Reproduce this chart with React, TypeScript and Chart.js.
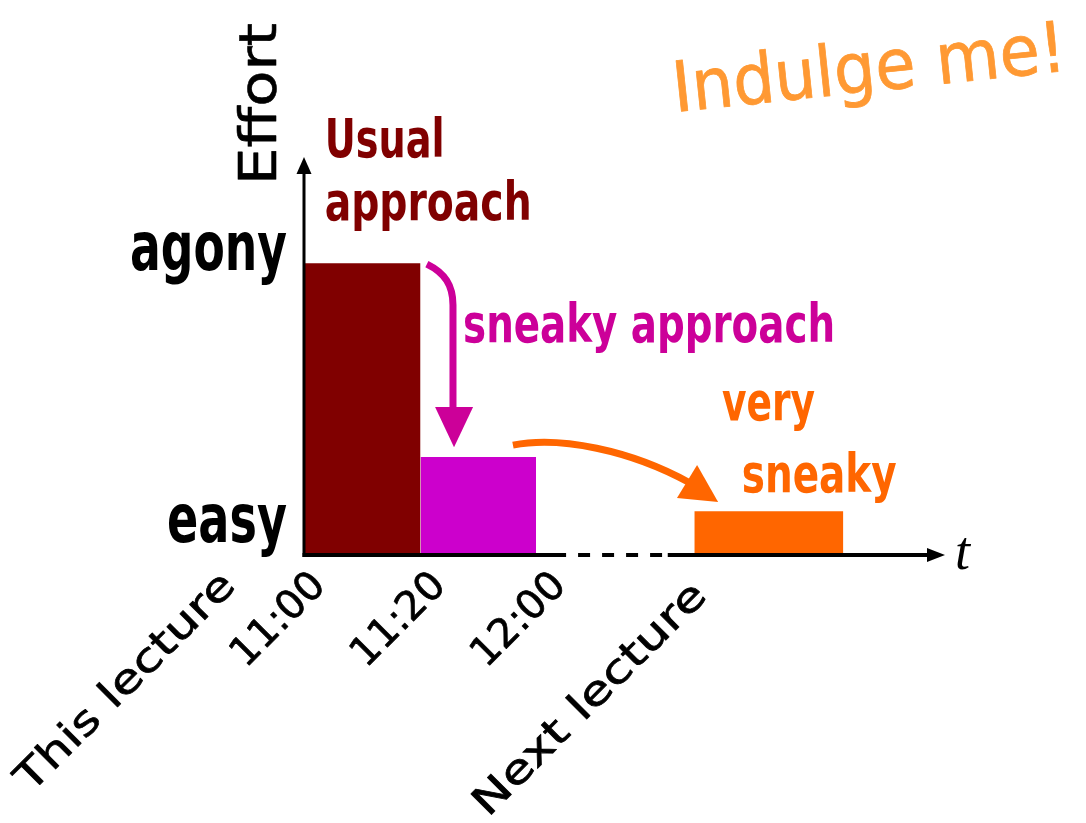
import React, { useEffect, useRef } from 'react';
import { Chart, registerables } from 'chart.js';

Chart.register(...registerables);

// ---- data ----
const approaches = ['Usual approach', 'sneaky approach', 'very sneaky'];
const startTimes = [0, 1, 3.37];
const endTimes = [1, 2, 4.66];
const effortValues = [7.33, 2.46, 1.1];
const barColors = ['#800000', '#CC00CC', '#FF6600'];

const timeTickLabels = ['This lecture', '11:00', '11:20', '12:00', 'Next lecture'];
const timeTickValues = [-0.65, 0.13, 1.17, 2.21, 3.43];
const effortTickLabels = ['agony', 'easy'];
const effortTickValues = [7.16, 0.33];

// gap (dashed) section of the time axis
const gapStart = 2.26;
const gapEnd = 3.14;

const X_MAX = 5.54;
const Y_MAX = 10;

// ---- layout / style (not data) ----
const timeTickDrop = [25, 25, 25, 25, 35];
const timeTickLength = [292, 0, 0, 0, 312];
const COMIC = "'Comic Sans MS', 'DejaVu Sans', sans-serif";
const NARROW = "'Liberation Sans Narrow', 'Arial Narrow', 'DejaVu Sans Condensed', 'Liberation Sans', sans-serif";

type TextOpts = {
  font: string;
  color: string;
  align?: 'left' | 'right' | 'center';
  baseline?: CanvasTextBaseline;
  rotate?: number;
  width?: number;
  stroke?: number;
};

function drawText(ctx: CanvasRenderingContext2D, text: string, x: number, y: number, o: TextOpts) {
  ctx.save();
  ctx.font = o.font;
  ctx.fillStyle = o.color;
  ctx.strokeStyle = o.color;
  ctx.lineJoin = 'round';
  ctx.textAlign = 'left';
  ctx.textBaseline = o.baseline || 'alphabetic';
  ctx.translate(x, y);
  ctx.rotate(o.rotate || 0);
  const w = ctx.measureText(text).width;
  const target = o.width && o.width > 0 ? o.width : w;
  ctx.scale(target / w, 1);
  const dx = o.align === 'right' ? -w : o.align === 'center' ? -w / 2 : 0;
  ctx.fillText(text, dx, 0);
  if (o.stroke) {
    ctx.lineWidth = o.stroke;
    ctx.strokeText(text, dx, 0);
  }
  ctx.restore();
}

const diagramPlugin = {
  id: 'diagram',
  afterDatasetsDraw(chart: any) {
    const ctx: CanvasRenderingContext2D = chart.ctx;
    const xs = chart.scales.x;
    const ys = chart.scales.y;
    const px = (v: number) => xs.getPixelForValue(v);
    const py = (v: number) => ys.getPixelForValue(v);
    const x0 = px(0);
    const y0 = py(0);
    const xEnd = xs.right;
    const yTop = ys.top;

    ctx.save();
    ctx.strokeStyle = '#000';
    ctx.fillStyle = '#000';
    ctx.lineCap = 'butt';

    // y axis
    ctx.lineWidth = 3;
    ctx.beginPath();
    ctx.moveTo(x0 - 1, y0 + 2);
    ctx.lineTo(x0 - 1, yTop + 14);
    ctx.stroke();
    ctx.beginPath();
    ctx.moveTo(x0 - 1, yTop);
    ctx.lineTo(x0 - 8.5, yTop + 17);
    ctx.lineTo(x0 + 6.5, yTop + 17);
    ctx.closePath();
    ctx.fill();

    // x axis
    ctx.lineWidth = 4;
    ctx.beginPath();
    ctx.moveTo(x0 - 2.5, y0);
    ctx.lineTo(px(gapStart), y0);
    ctx.stroke();
    ctx.save();
    ctx.setLineDash([12, 12]);
    ctx.lineDashOffset = 12;
    ctx.beginPath();
    ctx.moveTo(px(gapStart), y0);
    ctx.lineTo(px(gapEnd), y0);
    ctx.stroke();
    ctx.restore();
    ctx.beginPath();
    ctx.moveTo(px(gapEnd), y0);
    ctx.lineTo(xEnd - 14, y0);
    ctx.stroke();
    ctx.beginPath();
    ctx.moveTo(xEnd, y0);
    ctx.lineTo(xEnd - 18, y0 - 7);
    ctx.lineTo(xEnd - 18, y0 + 7);
    ctx.closePath();
    ctx.fill();

    // magenta arrow (usual -> sneaky)
    ctx.strokeStyle = '#CC0099';
    ctx.fillStyle = '#CC0099';
    ctx.lineWidth = 7;
    ctx.beginPath();
    ctx.moveTo(px(1.055), py(7.31));
    ctx.bezierCurveTo(px(1.21), py(7.09), px(1.281), py(6.78), px(1.281), py(6.28));
    ctx.lineTo(px(1.281), py(3.6));
    ctx.stroke();
    ctx.beginPath();
    ctx.moveTo(px(1.126), py(3.72));
    ctx.lineTo(px(1.455), py(3.72));
    ctx.lineTo(px(1.29), py(2.71));
    ctx.closePath();
    ctx.fill();

    // orange arrow (sneaky -> very sneaky)
    ctx.strokeStyle = '#FF6600';
    ctx.fillStyle = '#FF6600';
    ctx.beginPath();
    ctx.moveTo(px(1.8), py(2.76));
    ctx.bezierCurveTo(px(2.208), py(2.99), px(2.814), py(2.64), px(3.333), py(1.81));
    ctx.stroke();
    ctx.beginPath();
    ctx.moveTo(px(3.22), py(1.43));
    ctx.lineTo(px(3.394), py(2.26));
    ctx.lineTo(px(3.576), py(1.33));
    ctx.closePath();
    ctx.fill();
    ctx.restore();

    // annotations
    drawText(ctx, 'Usual', px(0.17), py(10.0), { font: `bold 54px ${NARROW}`, color: '#800000', width: 120 });
    drawText(ctx, 'approach', px(0.17), py(8.42), { font: `bold 54px ${NARROW}`, color: '#800000', width: 207 });
    drawText(ctx, 'sneaky approach', px(1.368), py(5.35), { font: `bold 54px ${NARROW}`, color: '#CC0099', width: 372 });
    drawText(ctx, 'very', px(3.61), py(3.39), { font: `bold 54px ${NARROW}`, color: '#FF6600', width: 93 });
    drawText(ctx, 'sneaky', px(3.78), py(1.58), { font: `bold 54px ${NARROW}`, color: '#FF6600', width: 155 });

    // effort ticks
    effortTickLabels.forEach((lab, i) => {
      drawText(ctx, lab, x0 - 18, py(effortTickValues[i]), {
        font: `bold 68px ${NARROW}`, color: '#000', align: 'right', width: i === 0 ? 157 : 120,
      });
    });

    // time ticks
    timeTickLabels.forEach((lab, i) => {
      drawText(ctx, lab, px(timeTickValues[i]), y0 + timeTickDrop[i], {
        font: `40px ${COMIC}`, color: '#000', align: 'right', baseline: 'middle',
        rotate: -Math.PI / 4, width: timeTickLength[i], stroke: 0.7,
      });
    });

    // axis titles
    drawText(ctx, 'Effort', x0 - 29, y0 - 370, { font: `52px ${COMIC}`, color: '#000', rotate: -Math.PI / 2, width: 162, stroke: 0.6 });
    drawText(ctx, 't', xEnd + 10, y0 + 14, { font: `italic 54px 'Liberation Serif', 'DejaVu Serif', serif`, color: '#000' });

    // title
    drawText(ctx, 'Indulge me!', 675, 112, { font: `70px ${COMIC}`, color: '#FF9933', rotate: -0.105, width: 395, stroke: 0.8 });
  },
};

export default function App() {
  const ref = useRef<HTMLCanvasElement>(null);
  useEffect(() => {
    const canvas = ref.current!;
    const datasets = approaches.map((name, i) => ({
      label: name,
      data: [
        { x: startTimes[i], y: effortValues[i] },
        { x: endTimes[i], y: effortValues[i] },
      ],
      borderWidth: 0,
      borderColor: 'rgba(0,0,0,0)',
      backgroundColor: barColors[i],
      fill: 'origin',
      pointRadius: 0,
      tension: 0,
    }));
    const chart = new Chart(canvas, {
      type: 'line',
      data: { datasets } as any,
      options: {
        animation: false,
        responsive: false,
        devicePixelRatio: 1,
        events: [],
        layout: { padding: { left: 305, right: 141, top: 157, bottom: 268 } },
        scales: {
          x: { type: 'linear', min: 0, max: X_MAX, display: false },
          y: { type: 'linear', min: 0, max: Y_MAX, display: false },
        },
        plugins: { legend: { display: false }, tooltip: { enabled: false } },
      } as any,
      plugins: [diagramPlugin],
    });
    return () => chart.destroy();
  }, []);
  return (
    <div style={{ position: 'fixed', left: 0, top: 0, width: 1086, height: 823, background: '#fff' }}>
      <canvas ref={ref} width={1086} height={823} style={{ display: 'block', width: 1086, height: 823 }} />
    </div>
  );
}
